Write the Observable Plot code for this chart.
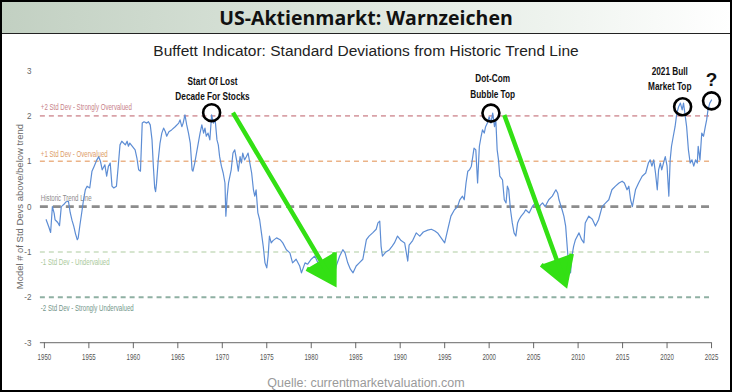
<!DOCTYPE html>
<html><head><meta charset="utf-8">
<script src="https://cdn.jsdelivr.net/npm/d3@7"></script>
<script src="https://cdn.jsdelivr.net/npm/@observablehq/plot@0.6"></script>
<style>
html,body{margin:0;padding:0;background:#fff;}
#frame{position:relative;width:732px;height:392px;box-sizing:border-box;border:2px solid #000;overflow:hidden;background:#fff;}
#title{position:absolute;left:0;top:0;width:100%;height:32px;box-sizing:border-box;border-bottom:1px solid #222;
  background:linear-gradient(90deg,#c2d0c2 0%,#d9e3d9 40%,#eef3ee 75%,#ffffff 100%);
  font:700 19.5px "Open Sans",sans-serif;color:#111;text-align:center;line-height:31px;z-index:2;}
#subtitle{position:absolute;left:0;top:40px;width:100%;text-align:center;font:15.5px/18px "Liberation Sans",Arial,sans-serif;color:#222;z-index:2;}
#chart{position:absolute;left:-2px;top:54px;}
#caption{position:absolute;left:0;top:373px;width:100%;text-align:center;font:12.5px/16px "Liberation Sans",Arial,sans-serif;color:#9a9a9a;}
</style></head>
<body>
<div id="frame">
  <div id="title">US-Aktienmarkt: Warnzeichen</div>
  <div id="subtitle">Buffett Indicator: Standard Deviations from Historic Trend Line</div>
  <div id="chart"></div>
  <div id="caption">Quelle: currentmarketvaluation.com</div>
</div>
<script>
// ---- data ----
const years = [
1950.2,1950.5,1950.7,1950.9,1951.1,1951.2,1951.5,1951.7,1951.9,1952.2,1952.4,1952.7,1952.9,1953.1,1953.3,1953.5,1953.7,1953.8,1954.0,1954.2,
1954.4,1954.6,1954.8,1955.1,1955.35,1955.6,1955.9,1956.1,1956.3,1956.5,1956.8,1957.0,1957.2,1957.4,1957.6,1957.8,1958.1,1958.3,1958.5,1958.7,
1959.1,1959.3,1959.45,1959.6,1960.2,1960.4,1960.6,1960.8,1961.0,1961.2,1961.5,1961.7,1961.9,1962.1,1962.25,1962.4,1962.5,1962.6,1962.8,1963.0,
1963.2,1963.4,1963.6,1963.75,1964.0,1964.3,1964.7,1965.1,1965.25,1965.45,1965.6,1965.8,1966.0,1966.2,1966.4,1966.6,1966.7,1966.9,1967.1,1967.3,
1967.5,1967.7,1967.9,1968.05,1968.2,1968.4,1968.6,1968.8,1969.0,1969.2,1969.4,1969.55,1969.7,1969.9,1970.1,1970.3,1970.4,1970.55,1970.7,1971.0,
1971.2,1971.4,1971.6,1971.8,1972.0,1972.15,1972.3,1972.5,1972.7,1972.9,1973.1,1973.3,1973.5,1973.65,1973.8,1974.0,1974.2,1974.4,1974.6,1974.8,
1975.0,1975.15,1975.3,1975.5,1975.7,1976.1,1976.5,1976.8,1977.2,1977.6,1977.9,1978.3,1978.7,1978.9,1979.3,1979.6,1980.0,1980.4,1980.75,1981.0,
1981.3,1981.7,1982.1,1982.4,1982.8,1983.2,1983.55,1983.8,1984.1,1984.4,1984.7,1985.05,1985.4,1985.8,1986.2,1986.5,1986.9,1987.3,1987.5,1987.7,
1987.85,1988.0,1988.4,1988.8,1989.1,1989.35,1989.7,1990.1,1990.5,1990.85,1991.0,1991.4,1991.8,1992.2,1992.6,1993.1,1993.5,1993.9,1994.2,1994.6,
1995.0,1995.35,1995.7,1996.1,1996.45,1996.7,1997.0,1997.2,1997.4,1997.6,1997.8,1998.0,1998.3,1998.5,1998.7,1998.9,1999.1,1999.25,1999.45,1999.6,
1999.8,2000.0,2000.2,2000.4,2000.6,2000.75,2000.9,2001.05,2001.2,2001.5,2001.7,2001.9,2002.05,2002.2,2002.4,2002.6,2002.8,2003.0,2003.2,2003.35,
2003.6,2003.9,2004.1,2004.5,2004.85,2005.2,2005.6,2006.0,2006.3,2006.7,2007.1,2007.5,2007.7,2007.85,2008.2,2008.4,2008.6,2008.8,2008.95,2009.15,
2009.3,2009.5,2009.7,2010.1,2010.4,2010.65,2010.8,2011.2,2011.6,2011.95,2012.3,2012.7,2013.1,2013.45,2013.8,2014.2,2014.6,2014.95,2015.2,2015.5,
2015.7,2015.9,2016.1,2016.45,2016.8,2017.2,2017.6,2017.9,2018.1,2018.3,2018.5,2018.7,2018.9,2019.05,2019.25,2019.4,2019.6,2019.8,2020.0,2020.2,
2020.35,2020.5,2020.7,2020.9,2021.1,2021.3,2021.5,2021.7,2021.85,2022.0,2022.2,2022.4,2022.6,2022.8,2023.0,2023.2,2023.4,2023.5,2023.7,2023.9,
2024.1,2024.3,2024.45,2024.6,2024.8,2025.0
];
const stdDevs = [
-0.29,-0.45,-0.57,0.0,-0.15,-0.29,-0.35,-0.42,0.0,0.05,0.10,0.12,-0.13,-0.3,-0.43,-0.6,-0.73,-0.69,-0.4,-0.13,
0.15,0.37,0.45,0.41,0.78,0.89,1.03,1.1,1.0,0.81,0.92,0.67,0.89,0.96,0.45,0.41,0.45,0.89,1.36,1.44,
1.36,1.44,1.33,1.4,1.25,1.07,0.81,0.78,1.84,1.87,1.84,1.87,1.8,1.47,0.89,0.41,0.33,0.5,1.03,1.4,
1.62,1.73,1.65,1.55,1.65,1.69,1.76,1.84,1.91,1.76,1.84,2.02,1.8,1.62,1.4,0.81,0.78,0.96,1.18,1.4,
1.62,1.8,1.62,1.73,1.55,1.62,1.47,2.02,1.84,1.91,1.47,1.36,1.1,0.89,0.74,0.52,-0.21,0.23,0.52,0.81,
1.18,1.25,1.03,0.78,1.1,0.96,1.18,1.03,1.1,1.18,0.96,0.74,0.37,0.23,0.37,-0.14,-0.29,-0.58,-0.87,-1.24,
-1.35,-1.09,-0.65,-0.8,-0.75,-0.69,-0.73,-0.8,-0.95,-1.02,-1.24,-1.16,-1.31,-1.46,-1.24,-1.27,-1.16,-1.09,-1.24,-1.2,
-1.31,-1.24,-1.31,-1.68,-1.31,-1.09,-0.95,-1.02,-1.24,-1.38,-1.46,-1.31,-1.24,-1.16,-0.73,-0.65,-0.58,-0.5,-0.36,-0.32,
-0.87,-1.09,-1.0,-0.95,-0.87,-0.8,-0.65,-0.75,-0.8,-1.2,-0.85,-0.75,-0.58,-0.65,-0.56,-0.52,-0.5,-0.54,-0.58,-0.69,
-0.8,-0.5,-0.21,-0.07,0.0,0.15,0.23,0.15,0.52,0.78,0.81,0.89,1.29,1.25,0.52,1.33,1.55,1.69,1.62,1.76,
1.84,1.98,1.84,2.06,1.76,1.91,1.25,1.03,0.67,0.59,0.15,0.08,0.45,0.37,-0.07,-0.36,-0.58,-0.65,-0.36,-0.29,
-0.21,-0.14,-0.07,-0.14,0.0,0.08,0.0,0.08,0.0,0.15,0.23,0.37,0.3,0.15,-0.07,-0.21,-0.43,-0.95,-1.31,-1.46,
-1.09,-0.87,-0.73,-0.58,-0.73,-0.8,-0.36,-0.21,-0.28,-0.43,-0.29,0.0,0.08,0.15,0.37,0.45,0.52,0.56,0.52,0.37,
0.45,0.15,0.0,0.37,0.52,0.67,0.74,0.96,1.03,0.89,1.03,0.74,0.37,0.81,0.96,0.81,0.96,1.1,0.89,0.23,
1.03,1.33,1.55,1.76,2.06,2.2,2.28,2.13,2.28,2.06,1.76,1.25,0.96,1.03,0.89,1.03,0.96,1.33,1.03,1.62,
1.55,1.76,1.91,2.13,2.28,2.35
];
const xTicks = [1950,1955,1960,1965,1970,1975,1980,1985,1990,1995,2000,2005,2010,2015,2020,2025];
const yTicks = [3,2,1,0,-1,-2,-3];
const levelValues = [2,1,0,-1,-2];
const levelLabels = ["+2 Std Dev - Strongly Overvalued","+1 Std Dev - Overvalued","Historic Trend Line","-1 Std Dev - Undervalued","-2 Std Dev - Strongly Undervalued"];
const yLabel = "Model # of Std Devs above/below trend";
// annotations (data coordinates: year, std devs)
const noteTexts = ["Start Of Lost\nDecade For Stocks","Dot-Com\nBubble Top","2021 Bull\nMarket Top"];
const noteX = [1968.9, 2000.4, 2020.3];
const noteY = [2.62, 2.68, 2.84];
const circleX = [1968.8, 2000.2, 2021.75, 2025.0];
const circleY = [2.07, 2.06, 2.2, 2.33];
const arrowFromX = [1971.2, 2001.7];
const arrowFromY = [2.07, 2.02];
const arrowToX = [1982.6, 2008.6];
const arrowToY = [-1.7, -1.72];
const questionX = [2025.0];
const questionY = [2.8];

// ---- styles ----
const LEVEL_STYLE = [
  {stroke:"#d9a2a8", width:1.6, dash:"5,4", text:"#c78289", dy:-9},
  {stroke:"#ebb388", width:1.6, dash:"5,4", text:"#dd9c68", dy:-7},
  {stroke:"#8c8c8c", width:2.6, dash:"8,5", text:"#8c8c8c", dy:-8},
  {stroke:"#c9ddc0", width:1.6, dash:"5,4", text:"#a9c99a", dy:10},
  {stroke:"#8fb0a3", width:2.0, dash:"5,4", text:"#72968a", dy:11}
];
const FONT = "'Liberation Sans',Arial,sans-serif";
const GREEN = "#33e014";

const series = years.map((x,i)=>({x, y: stdDevs[i]}));
const notes = noteTexts.map((t,i)=>({t, x: noteX[i], y: noteY[i]}));
const circles = circleX.map((x,i)=>({x, y: circleY[i]}));
const arrows = arrowFromX.map((x,i)=>({x1:x, y1:arrowFromY[i], x2:arrowToX[i], y2:arrowToY[i]}));

const marks = [];
levelValues.forEach((v,i)=>{
  const s = LEVEL_STYLE[i];
  marks.push(Plot.ruleY([v], {x1: 1949.55, x2: 2025, stroke: s.stroke, strokeWidth: s.width, strokeDasharray: s.dash}));
});
levelValues.forEach((v,i)=>{
  const s = LEVEL_STYLE[i];
  marks.push(Plot.text([levelLabels[i]], {x: 1949.6, y: v, text: d=>d, textAnchor:"start", dy: s.dy, fill: s.text, fontSize: 8.5}));
});
marks.push(Plot.line(series, {x:"x", y:"y", stroke:"#5d8dd4", strokeWidth:1.2, strokeLinejoin:"round"}));
marks.push(Plot.ruleY([-3], {x1: 1949.55, x2: 2025, stroke:"#666", strokeWidth:1}));
marks.push(Plot.axisX({ticks: xTicks, tickFormat: d=>String(d), tickSize:6, tickPadding:5, stroke:"#666", fill:"#555", fontSize:8.5, label:null}));
marks.push(Plot.axisY({ticks: yTicks, tickFormat: d=>String(d), tickSize:0, tickPadding:13, fill:"#666", fontSize:9.5,
  label: yLabel, labelAnchor:"center", labelOffset:28, labelArrow:"none"}));
marks.push(Plot.arrow(arrows, {x1:"x1", y1:"y1", x2:"x2", y2:"y2", stroke: GREEN, fill: GREEN, strokeWidth:4.5, headLength:10.5, headAngle:62, strokeLinejoin:"miter", strokeMiterlimit:4, strokeLinecap:"butt"}));
marks.push(Plot.dot(circles, {x:"x", y:"y", r:8.5, stroke:"#000", strokeWidth:2.6, fill:"none"}));
marks.push(Plot.text(notes, {x:"x", y:"y", text:"t", fontWeight:"bold", fontSize:11.5, lineHeight:1.35, fill:"#111"}));
marks.push(Plot.text(questionX, {x: d=>d, y: (d,i)=>questionY[i], text: ()=>"?", fontWeight:"bold", fontSize:19, fill:"#111"}));

const chart = Plot.plot({
  width: 732, height: 316,
  marginLeft: 44, marginRight: 19, marginTop: 14, marginBottom: 29,
  x: {domain:[1950,2025]},
  y: {domain:[-3,3]},
  style: {fontFamily: FONT, color:"#666", background:"transparent", overflow:"visible"},
  marks
});
document.getElementById("chart").appendChild(chart);

// condense text to imitate the narrow typeface of the original
function condense(nodes, factor){
  nodes.forEach(t=>{
    const parts = t.querySelectorAll("tspan");
    const targets = parts.length ? Array.from(parts) : [t];
    targets.forEach(el=>{
      const w = el.getComputedTextLength();
      if (w > 0) { el.setAttribute("textLength", (w*factor).toFixed(1)); el.setAttribute("lengthAdjust","spacingAndGlyphs"); }
    });
  });
}
const textGroups = chart.querySelectorAll('g[aria-label="text"]');
const levelGroupTexts = [];
textGroups.forEach((g,i)=>{ if (i < levelValues.length) levelGroupTexts.push(...g.querySelectorAll("text")); });
condense(levelGroupTexts, 0.72);
if (textGroups[levelValues.length]) condense(Array.from(textGroups[levelValues.length].querySelectorAll("text")), 0.72);
condense(Array.from(chart.querySelectorAll('g[aria-label="x-axis tick label"] text')), 0.72);
condense(Array.from(chart.querySelectorAll('g[aria-label="y-axis tick label"] text')), 0.85);
</script>
</body></html>
